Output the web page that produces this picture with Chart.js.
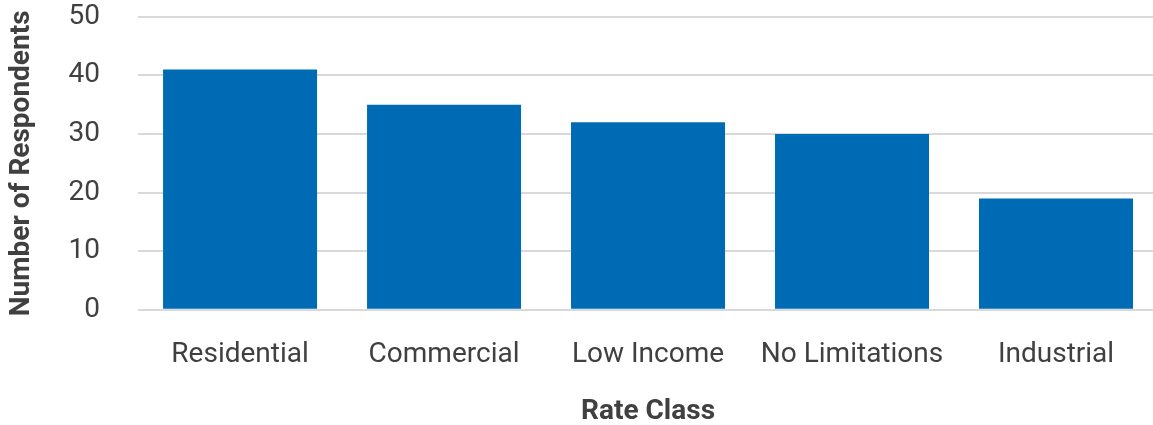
<!DOCTYPE html>
<html>
<head>
<meta charset="utf-8">
<script src="https://cdn.jsdelivr.net/npm/chart.js"></script>
<style>
  html, body { margin: 0; padding: 0; background: #fff; overflow: hidden; }
  #wrap { width: 1158px; height: 425px; }
</style>
</head>
<body>
<div id="wrap"><canvas id="barChart"></canvas></div>
<script>
// Data
var rateClasses = ['Residential', 'Commercial', 'Low Income', 'No Limitations', 'Industrial'];
var respondents = [41, 35, 32, 30, 19];
var yTicks = [0, 10, 20, 30, 40, 50];

var fontFamily = 'Roboto, "Liberation Sans", sans-serif';

var ctx = document.getElementById('barChart').getContext('2d');
var barChart = new Chart(ctx, {
    type: 'bar',
    data: {
        labels: rateClasses,
        datasets: [{
            label: 'Number of Respondents',
            data: respondents,
            backgroundColor: '#006bb5',
            borderWidth: 0,
            categoryPercentage: 1.0,
            barPercentage: 0.755
        }]
    },
    options: {
        responsive: true,
        maintainAspectRatio: false,
        animation: false,
        layout: { padding: { top: 1, right: 0, bottom: 0, left: 5 } },
        plugins: {
            legend: { display: false },
            tooltip: { enabled: false }
        },
        scales: {
            x: {
                grid: { display: false, drawTicks: false },
                border: { display: false },
                ticks: {
                    color: '#404040',
                    padding: 28,
                    maxRotation: 0,
                    minRotation: 0,
                    autoSkip: false,
                    font: { family: fontFamily, size: 28 }
                },
                title: {
                    display: true,
                    text: 'Rate Class',
                    color: '#404040',
                    padding: { top: -4, bottom: -4 },
                    font: { family: fontFamily, size: 28, weight: 'bold' }
                }
            },
            y: {
                min: 0,
                max: 50,
                afterBuildTicks: function (axis) {
                    axis.ticks = yTicks.map(function (v) { return { value: v }; });
                },
                // invisible tick marks give the gap between labels and plot
                grid: { color: '#d9d9d9', lineWidth: 2, drawTicks: true, tickLength: 38, tickColor: 'rgba(0,0,0,0)' },
                border: { display: false },
                ticks: {
                    color: '#404040',
                    padding: 0,
                    font: { family: fontFamily, size: 28 }
                },
                title: {
                    display: true,
                    text: 'Number of Respondents',
                    color: '#404040',
                    padding: { top: 0, bottom: 30 },
                    font: { family: fontFamily, size: 28, weight: 'bold' }
                }
            }
        }
    }
});
</script>
</body>
</html>
